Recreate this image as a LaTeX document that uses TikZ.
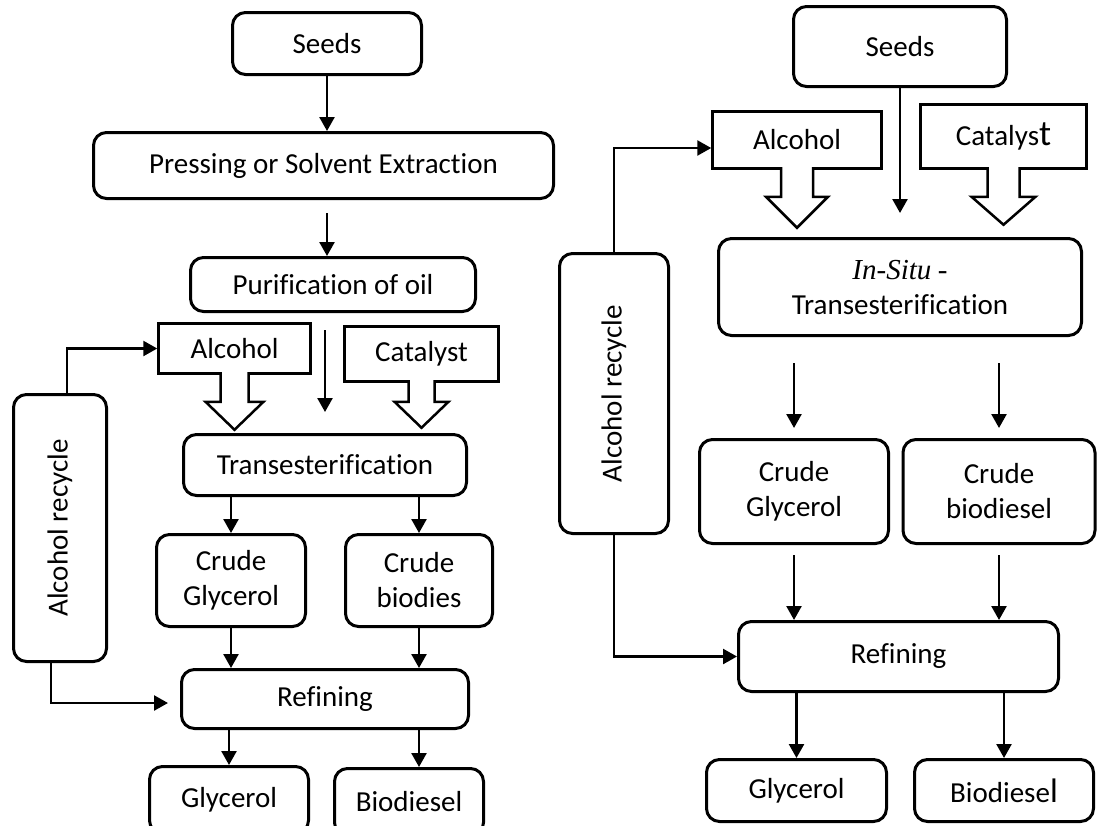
\documentclass[tikz,border=0pt]{standalone}
\usepackage{fontspec}
\setmainfont{Carlito}[Ligatures=CommonOff]
\newfontfamily\timesfont{Liberation Serif}
\usetikzlibrary{arrows.meta,calc}

\newcommand{\diagfont}{\fontsize{29}{35}\selectfont}
% open block arrow below a feed box: node, shaft half width, shaft length, head half width, head length
\newcommand{\fatarrow}[5]{%
  \filldraw[fatline] ($(#1.south)+(-#2,-2.6)$) -- ++(0,#3+2.6) -- ++(-#4+#2,0)
    -- ++(#4,#5) -- ++(#4,-#5) -- ++(-#4+#2,0) -- ++(0,-#3-2.6);
}

\tikzset{
  box/.style={draw, line width=3pt, rounded corners=13pt, align=center, inner sep=0pt, font=\diagfont},
  feed/.style={draw, line width=2.5pt, align=center, inner sep=0pt, font=\diagfont},
  fatline/.style={line width=2.5pt, fill=white, line join=miter},
  arr/.style={line width=2.5pt, -{Triangle[length=14pt,width=15pt]}},
}

\begin{document}
\begin{tikzpicture}[x=1pt,y=-1pt]
		\useasboundingbox (0,0) rectangle (1097,825);
		\clip (0,0) rectangle (1097,825);

		% left: conventional route
		\node[box, minimum width=189pt, minimum height=62pt] (seedsL) at (327,43.5) {Seeds};
		\node[box, minimum width=460pt, minimum height=66pt] (press) at (323.5,165.5) {Pressing or Solvent Extraction};
		\node[box, minimum width=285pt, minimum height=54pt] (purif) at (333,284.5) {Purification of oil};
		\node[feed, minimum width=152pt, minimum height=50pt] (alcL) at (234.5,348.5) {Alcohol};
		\node[feed, minimum width=154pt, minimum height=55pt] (catL) at (421.5,354) {Catalyst};
		\node[box, minimum width=283pt, minimum height=61pt] (transL) at (325,465) {Transesterification};
		\node[box, minimum width=149pt, minimum height=92pt] (cglyL) at (231,580.5) {Crude\\Glycerol};
		\node[box, minimum width=147pt, minimum height=92pt] (cbioL) at (419,580.5) {Crude\\biodies};
		\node[box, minimum width=287pt, minimum height=59pt] (refL) at (325,699) {Refining};
		\node[box, minimum width=159pt, minimum height=67pt] (glyL) at (229,800) {Glycerol};
		\node[box, minimum width=149pt, minimum height=67pt] (bioL) at (409,802) {Biodiesel};
		\node[box, minimum width=93pt, minimum height=267pt] (recL) at (60,528) {};
		\node[rotate=90, font=\diagfont] (recLtxt) at (recL.center) {Alcohol recycle};

		\fatarrow{alcL}{14}{27}{29}{28}
		\fatarrow{catL}{13}{19}{27}{26}

		\draw[arr] (seedsL.south) -- (seedsL.south |- press.north);
		\draw[arr, shorten <=13pt] (seedsL.south |- press.south) -- (seedsL.south |- purif.north);
		\draw[arr, shorten <=17pt, shorten >=21pt] (transL.north |- purif.south) -- (transL.north);
		\draw[arr] (cglyL.north |- transL.south) -- (cglyL.north);
		\draw[arr] (cbioL.north |- transL.south) -- (cbioL.north);
		\draw[arr] (cglyL.south) -- (cglyL.south |- refL.north);
		\draw[arr] (cbioL.south) -- (cbioL.south |- refL.north);
		\draw[arr] (glyL.north |- refL.south) -- (glyL.north);
		\draw[arr] (cbioL.south |- refL.south) -- (cbioL.south |- bioL.north);
		\draw[arr] ([xshift=7pt]recL.north) |- (alcL.west);
		\draw[arr, shorten >=12pt] ([xshift=-9pt]recL.south) |- ([yshift=-4pt]refL.west);

		% right: in-situ route
		\node[box, minimum width=213pt, minimum height=80pt] (seedsR) at (900,46.5) {Seeds};
		\node[feed, minimum width=169pt, minimum height=57pt] (alcR) at (797,140) {Alcohol};
		\node[feed, minimum width=166pt, minimum height=64pt] (catR) at (1003.5,136.5) {Catalys{\fontsize{36}{36}\selectfont t}};
		\node[box, minimum width=363pt, minimum height=97pt] (insitu) at (900,287) {{\timesfont\itshape In-Situ} {\timesfont -}\\Transesterification};
		\node[box, minimum width=189pt, minimum height=104pt] (cglyR) at (794,491.5) {Crude\\Glycerol};
		\node[box, minimum width=192pt, minimum height=104pt] (cbioR) at (999,491.5) {Crude\\biodiesel};
		\node[box, minimum width=320pt, minimum height=70pt] (refR) at (898.5,656.5) {Refining};
		\node[box, minimum width=180pt, minimum height=62pt] (glyR) at (796.5,790.5) {Glycerol};
		\node[box, minimum width=179pt, minimum height=62pt] (bioR) at (1004,790.5) {Biodiese{\fontsize{34}{34}\selectfont l}};
		\node[box, minimum width=109pt, minimum height=280pt] (recR) at (614,393.5) {};
		\node[rotate=90, font=\diagfont] (recRtxt) at (recR.center) {Alcohol recycle};

		\fatarrow{alcR}{16}{27}{31}{31}
		\fatarrow{catR}{16}{27}{32}{28}

		\draw[arr, shorten >=24pt] (seedsR.south) -- (seedsR.south |- insitu.north);
		\draw[arr, shorten <=26pt, shorten >=10pt] (cglyR.north |- insitu.south) -- (cglyR.north);
		\draw[arr, shorten <=26pt, shorten >=10pt] (cbioR.north |- insitu.south) -- (cbioR.north);
		\draw[arr, shorten <=10pt] (cglyR.south) -- (cglyR.south |- refR.north);
		\draw[arr, shorten <=10pt] (cbioR.south) -- (cbioR.south |- refR.north);
		\draw[arr] (glyR.north |- refR.south) -- (glyR.north);
		\draw[arr] (bioR.north |- refR.south) -- (bioR.north);
		\draw[arr] (recR.north) |- ([yshift=-8pt]alcR.west);
		\draw[arr] (recR.south) |- (refR.west);
	\end{tikzpicture}
\end{document}
